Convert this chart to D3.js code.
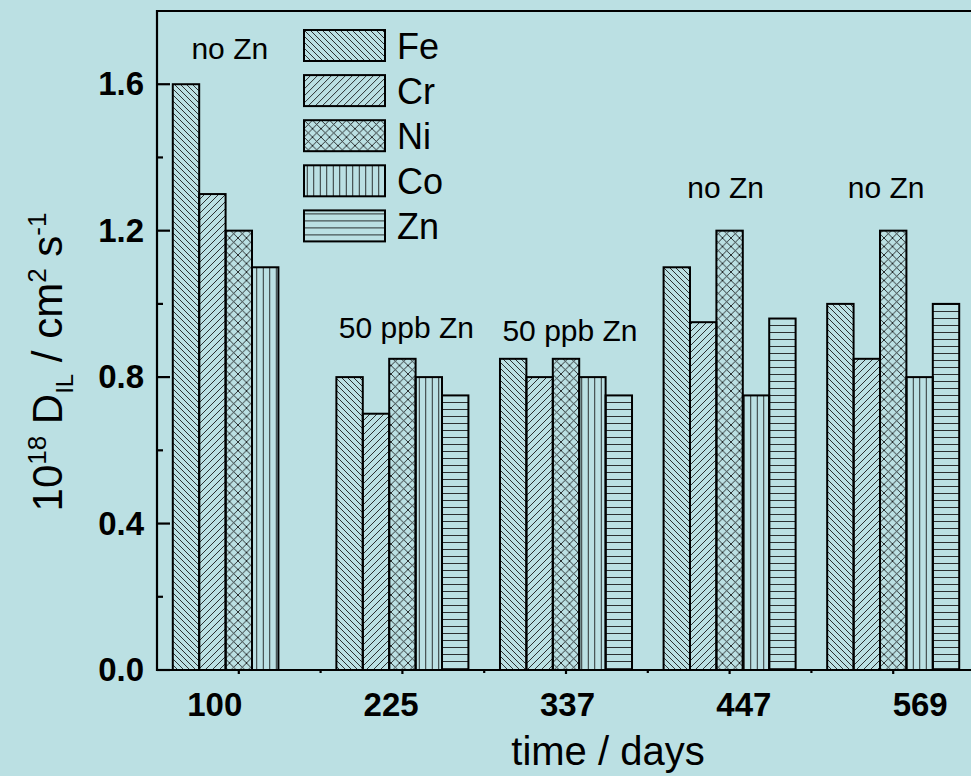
<!DOCTYPE html>
<html>
<head>
<meta charset="utf-8">
<script src="https://cdn.jsdelivr.net/npm/d3@7"></script>
<style>
  html, body { margin: 0; padding: 0; background: rgb(187,224,227); }
  svg { display: block; }
  text { font-family: "Liberation Sans", Arial, sans-serif; fill: #000; }
</style>
</head>
<body>
<svg id="chart" width="971" height="776"></svg>
<script>
// Interdiffusion coefficients per element at each exposure time
const days = ["100", "225", "337", "447", "569"];
const elements = ["Fe", "Cr", "Ni", "Co", "Zn"];
const feValues = [1.60, 0.80, 0.85, 1.10, 1.00];
const crValues = [1.30, 0.70, 0.80, 0.95, 0.85];
const niValues = [1.20, 0.85, 0.85, 1.20, 1.20];
const coValues = [1.10, 0.80, 0.80, 0.75, 0.80];
const znValues = [null, 0.75, 0.75, 0.96, 1.00];
const conditions = ["no Zn", "50 ppb Zn", "50 ppb Zn", "no Zn", "no Zn"];
const yTicks = [0.0, 0.4, 0.8, 1.2, 1.6];

const series = { Fe: feValues, Cr: crValues, Ni: niValues, Co: coValues, Zn: znValues };

const svg = d3.select("#chart");
const W = 971, H = 776;
const plot = { left: 157, top: 11, right: 975, bottom: 670 };

svg.append("rect").attr("width", W).attr("height", H).attr("fill", "rgb(187,224,227)");

// Hatch patterns, one per element
const defs = svg.append("defs");
const ink = "#111";
function pattern(id, size, d) {
  const p = defs.append("pattern").attr("id", id)
    .attr("patternUnits", "userSpaceOnUse")
    .attr("width", size).attr("height", size);
  p.append("path").attr("d", d).attr("stroke", ink).attr("stroke-width", 0.85)
    .attr("fill", "none");
}
const s1 = 6, s2 = 7, s3 = 8.5, s4 = 6.5, s5 = 7;
pattern("pFe", s1, `M0,0L${s1},${s1}M${-s1},0L${s1},${2*s1}M0,${-s1}L${2*s1},${s1}`);
pattern("pCr", s2, `M0,${s2}L${s2},0M${-s2},${s2}L${s2},${-s2}M0,${2*s2}L${2*s2},0`);
pattern("pNi", s3, `M0,0L${s3},${s3}M0,${s3}L${s3},0M${-s3},0L${s3},${2*s3}M0,${-s3}L${2*s3},${s3}M${-s3},${s3}L${s3},${-s3}M0,${2*s3}L${2*s3},0`);
pattern("pCo", s4, `M${s4/2},0V${s4}`);
pattern("pZn", s5, `M0,${s5/2}H${s5}`);
const fills = { Fe: "url(#pFe)", Cr: "url(#pCr)", Ni: "url(#pNi)", Co: "url(#pCo)", Zn: "url(#pZn)" };

// Scales
const x0 = d3.scaleBand().domain(days).range([plot.left, plot.right])
  .paddingInner(0.193).paddingOuter(0.0965);
const x1 = d3.scaleBand().domain(elements).range([0, x0.bandwidth()]);
const y = d3.scaleLinear().domain([0, 1.8]).range([plot.bottom, plot.top]);

// Bars
const rows = [];
days.forEach((d, i) => elements.forEach(e => {
  if (series[e][i] != null) rows.push({ day: d, el: e, v: series[e][i] });
}));
svg.append("g").selectAll("rect").data(rows).join("rect")
  .attr("x", r => x0(r.day) + x1(r.el))
  .attr("y", r => y(r.v))
  .attr("width", x1.bandwidth())
  .attr("height", r => y(0) - y(r.v))
  .attr("fill", r => fills[r.el])
  .attr("stroke", "#000").attr("stroke-width", 2);

// Frame: left axis, bottom axis, top border
const frame = svg.append("g").attr("stroke", "#000").attr("stroke-width", 2.2).attr("fill", "none");
frame.append("path").attr("d", `M${plot.right},${plot.top}H${plot.left}V${plot.bottom}H${plot.right}`);

// Y axis ticks (inward) and labels
const yMinor = d3.range(0.2, 1.8, 0.4);
frame.selectAll(".ymaj").data(yTicks).join("line")
  .attr("x1", plot.left).attr("x2", plot.left + 13)
  .attr("y1", v => y(v)).attr("y2", v => y(v));
frame.selectAll(".ymin").data(yMinor).join("line").attr("class", "ymin")
  .attr("x1", plot.left).attr("x2", plot.left + 6)
  .attr("y1", v => y(v)).attr("y2", v => y(v));
svg.append("g").selectAll("text").data(yTicks).join("text")
  .attr("x", 144).attr("y", v => y(v) + 11)
  .attr("text-anchor", "end").attr("font-size", 33).attr("font-weight", "bold")
  .text(d3.format(".1f"));

// X axis ticks: majors at group centres, minors between groups
const centers = days.map(d => x0(d) + x0.bandwidth() / 2);
const bounds = days.map((d, i) => plot.left + x0.step() * i).slice(1);
frame.selectAll(".xmaj").data(centers).join("line")
  .attr("x1", c => c).attr("x2", c => c).attr("y1", plot.bottom).attr("y2", plot.bottom + 4);
frame.selectAll(".xmin").data(bounds).join("line").attr("class", "xmin")
  .attr("x1", c => c).attr("x2", c => c).attr("y1", plot.bottom).attr("y2", plot.bottom + 3);

// X tick labels
const labelX = d3.scalePoint().domain(days)
  .range([centers[0] - 24, centers[centers.length - 1] + 27]);
svg.append("g").selectAll("text").data(days).join("text")
  .attr("x", d => labelX(d)).attr("y", 716)
  .attr("text-anchor", "middle").attr("font-size", 33).attr("font-weight", "bold")
  .text(d => d);

// Axis titles
svg.append("text").attr("x", 608).attr("y", 765).attr("text-anchor", "middle")
  .attr("font-size", 40).text("time / days");

const yt = svg.append("text").attr("transform", "translate(62,362) rotate(-90)")
  .attr("text-anchor", "middle").attr("font-size", 42);
yt.append("tspan").text("10");
yt.append("tspan").attr("font-size", 26).attr("dy", -16).text("18");
yt.append("tspan").attr("dy", 16).text(" D");
yt.append("tspan").attr("font-size", 24).attr("dy", 11).text("IL");
yt.append("tspan").attr("dy", -11).text(" / cm");
yt.append("tspan").attr("font-size", 26).attr("dy", -16).text("2");
yt.append("tspan").attr("dy", 16).text(" s");
yt.append("tspan").attr("font-size", 26).attr("dy", -16).text("-1");

// Condition annotations above each group
const condY = [59, 338, 341, 198, 198];
const condDx = [-9, 4, 4, -4, -7];
svg.append("g").selectAll("text").data(days).join("text")
  .attr("x", (d, i) => centers[i] + condDx[i]).attr("y", (d, i) => condY[i])
  .attr("text-anchor", "middle").attr("font-size", 30)
  .text((d, i) => conditions[i]);

// Legend
const legend = svg.append("g").attr("transform", "translate(304,30)");
const item = legend.selectAll("g").data(elements).join("g")
  .attr("transform", (e, i) => `translate(0,${i * 45.1})`);
item.append("rect").attr("width", 81).attr("height", 31)
  .attr("fill", e => fills[e]).attr("stroke", "#000").attr("stroke-width", 2);
item.append("text").attr("x", 93).attr("y", 29).attr("font-size", 36).text(e => e);
</script>
</body>
</html>
